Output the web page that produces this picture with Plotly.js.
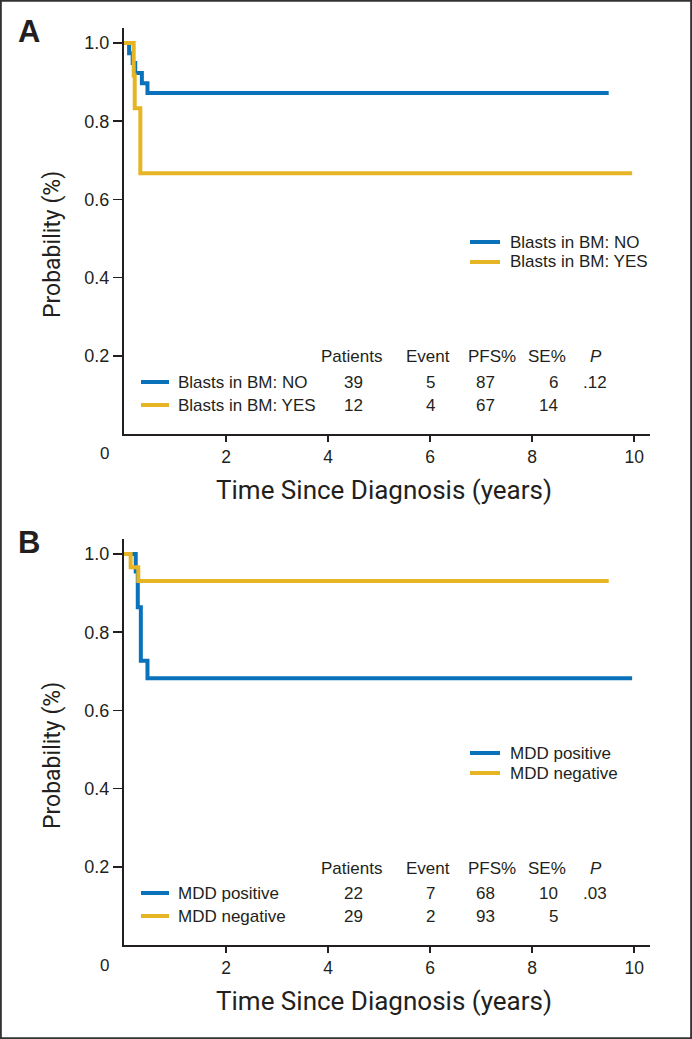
<!DOCTYPE html>
<html>
<head>
<meta charset="utf-8">
<script src="https://cdn.plot.ly/plotly-3.0.1.min.js"></script>
<style>
html,body{margin:0;padding:0;background:#fff;}
#chart{width:692px;height:1039px;}
</style>
</head>
<body>
<div id="chart"></div>
<script>
// ---------- Data ----------
// Panel A: Blasts in BM
const seriesA = ['Blasts in BM: NO', 'Blasts in BM: YES'];
const timeA_no  = [0, 0.10, 0.17, 0.22, 0.35, 0.46, 9.5];
const survA_no  = [1, 0.974, 0.949, 0.923, 0.897, 0.872, 0.872];
const timeA_yes = [0, 0.19, 0.21, 0.32, 9.96];
const survA_yes = [1, 0.917, 0.833, 0.667, 0.667];
// Panel B: MDD
const seriesB = ['MDD positive', 'MDD negative'];
const timeB_pos = [0, 0.23, 0.27, 0.33, 0.46, 9.96];
const survB_pos = [1, 0.955, 0.864, 0.727, 0.682, 0.682];
const timeB_neg = [0, 0.13, 0.28, 9.5];
const survB_neg = [1, 0.966, 0.931, 0.931];
// Tables
const tableHeaders = ['Patients', 'Event', 'PFS%', 'SE%', 'P'];
const patientsA = [39, 12], eventsA = [5, 4], pfsA = [87, 67], seA = [6, 14], pA = ['.12', ''];
const patientsB = [22, 29], eventsB = [7, 2], pfsB = [68, 93], seB = [10, 5], pB = ['.03', ''];
// Axis ticks
const xTicks = [2, 4, 6, 8, 10];
const yTicks = [0.2, 0.4, 0.6, 0.8, 1.0];

// ---------- Style ----------
const W = 692, H = 1039;
const BLUE = '#0a72ba', GOLD = '#e6b525', INK = '#231f20';
const SANS = 'Liberation Sans, Arial, sans-serif';
const TITLEF = 'Roboto, Liberation Sans, sans-serif';
const px = x => x / W;
const py = y => 1 - y / H;
const PANEL_OFF = 511;

function kmTrace(x, y, name, color, xa, ya) {
  return {x, y, name, type: 'scatter', mode: 'lines', line: {shape: 'hv', color, width: 4},
          xaxis: xa, yaxis: ya, showlegend: false, hoverinfo: 'skip'};
}

const traces = [
  kmTrace(timeA_no, survA_no, seriesA[0], BLUE, 'x', 'y'),
  kmTrace(timeA_yes, survA_yes, seriesA[1], GOLD, 'x', 'y'),
  kmTrace(timeB_pos, survB_pos, seriesB[0], BLUE, 'x2', 'y2'),
  kmTrace(timeB_neg, survB_neg, seriesB[1], GOLD, 'x2', 'y2')
];

function xAxis(anchor) {
  return {domain: [px(124), px(650)], range: [0, 10.31], anchor, showgrid: false, zeroline: false,
    showline: true, linecolor: INK, linewidth: 2, ticks: 'outside', ticklen: 6, tickwidth: 1.5,
    tickcolor: INK, tickvals: xTicks, tickfont: {family: SANS, size: 17.5, color: INK}, fixedrange: true};
}
function yAxis(anchor, top, bottom) {
  return {domain: [py(bottom), py(top)], range: [0, 1.0384], anchor, showgrid: false, zeroline: false,
    showline: true, linecolor: INK, linewidth: 2, ticks: 'outside', ticklen: 9, tickwidth: 1.5,
    tickcolor: INK, tickvals: yTicks, tickformat: '.1f', tickfont: {family: SANS, size: 18, color: INK},
    fixedrange: true};
}

const annotations = [];
const shapes = [];
function txt(x, y, text, opts) {
  annotations.push(Object.assign({xref: 'paper', yref: 'paper', x: px(x), y: py(y), text,
    showarrow: false, xanchor: 'center', yanchor: 'middle',
    font: {family: SANS, size: 17, color: INK}}, opts || {}));
}
function sample(x0, x1, y, color) {
  shapes.push({type: 'line', xref: 'paper', yref: 'paper', x0: px(x0), x1: px(x1),
    y0: py(y), y1: py(y), line: {color, width: 4}});
}

function panel(off, letter, names, pats, evs, pfs, se, p) {
  const cols = [BLUE, GOLD];
  txt(29, 31 + off, letter, {font: {family: SANS, size: 31, color: INK, weight: 'bold'}});
  txt(104, 454 + off, '0');
  txt(52, 245 + off, 'Probability (%)', {textangle: -90, font: {family: TITLEF, size: 23, color: INK}});
  txt(384, 490 + off, 'Time Since Diagnosis (years)', {font: {family: TITLEF, size: 26, color: INK}});
  // upper-right legend
  for (let r = 0; r < 2; r++) {
    const y = 242 + 20 * r + off;
    sample(470, 500, y, cols[r]);
    txt(508, y, names[r], {xanchor: 'left'});
  }
  // table header
  const hx = [351, 428, 492, 547];
  tableHeaders.forEach((h, i) => {
    if (i < 4) txt(hx[i], 357 + off, h);
    else txt(596, 357 + off, '<i>' + h + '</i>');
  });
  const rowsY = [382 + off, 405 + off];
  for (let r = 0; r < 2; r++) {
    sample(141, 169, rowsY[r], cols[r]);
    txt(176, rowsY[r], names[r], {xanchor: 'left'});
    txt(353, rowsY[r], String(pats[r]));
    txt(430, rowsY[r], String(evs[r]));
    txt(485, rowsY[r], String(pfs[r]));
    txt(560, rowsY[r], String(se[r]), {xanchor: 'right'});
    if (p[r]) txt(595, rowsY[r], p[r]);
  }
}
panel(0, 'A', seriesA, patientsA, eventsA, pfsA, seA, pA);
panel(PANEL_OFF, 'B', seriesB, patientsB, eventsB, pfsB, seB, pB);

// outer frame
shapes.push({type: 'rect', xref: 'paper', yref: 'paper', x0: 0.0012, x1: 0.9988, y0: 0.0008, y1: 0.9992,
  line: {color: '#333', width: 2}});

const layout = {
  width: W, height: H,
  margin: {l: 0, r: 0, t: 0, b: 0},
  paper_bgcolor: '#fff', plot_bgcolor: '#fff',
  showlegend: false,
  xaxis: xAxis('y'), yaxis: yAxis('x', 28, 434),
  xaxis2: xAxis('y2'), yaxis2: yAxis('x2', 28 + PANEL_OFF, 434 + PANEL_OFF),
  annotations, shapes
};

Plotly.newPlot('chart', traces, layout, {staticPlot: true, displayModeBar: false});
</script>
</body>
</html>
